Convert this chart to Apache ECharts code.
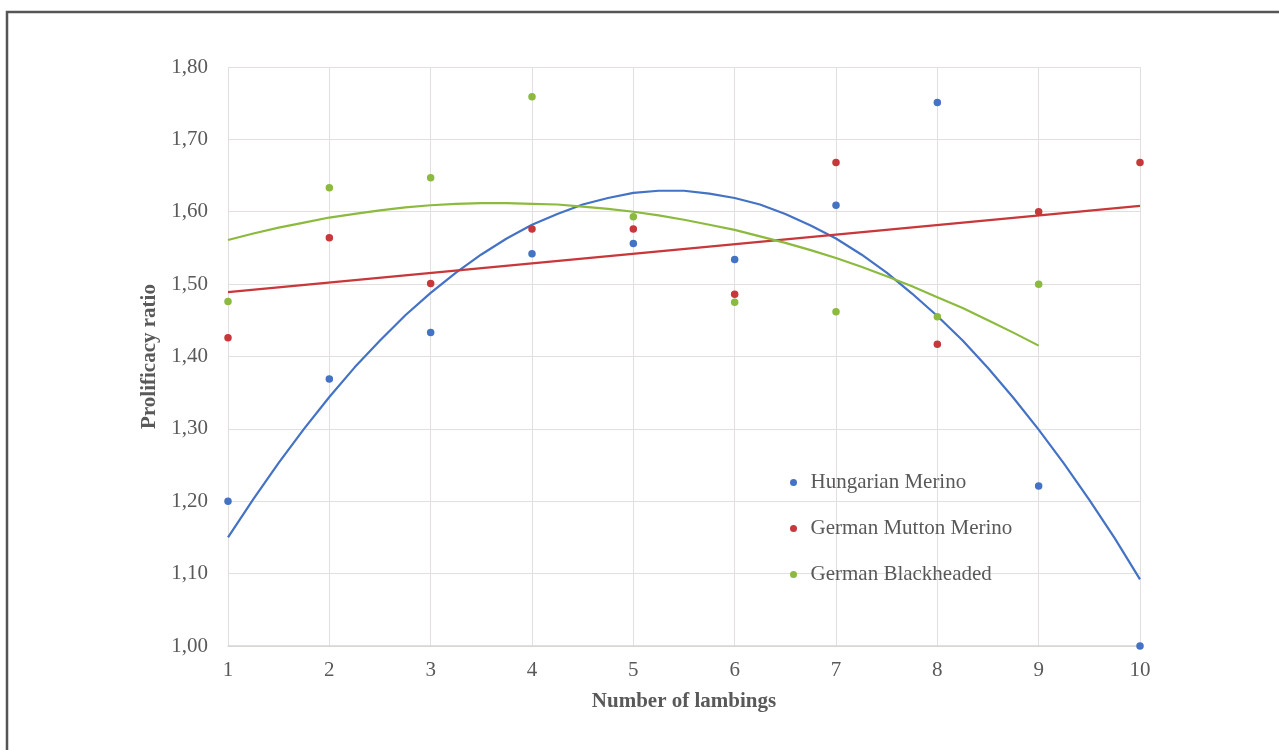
<!DOCTYPE html>
<html>
<head>
<meta charset="utf-8">
<script src="https://cdn.jsdelivr.net/npm/echarts@6/dist/echarts.min.js"></script>
<style>
html,body{margin:0;padding:0;background:#fff;}
#chart{width:1279px;height:750px;}
</style>
</head>
<body>
<div id="chart"></div>
<script>
// Data
const lambings = [1, 2, 3, 4, 5, 6, 7, 8, 9, 10];
const seriesNames = ['Hungarian Merino', 'German Mutton Merino', 'German Blackheaded'];
const hungarianMerino = [1.200, 1.369, 1.433, 1.542, 1.556, 1.534, 1.609, 1.751, 1.221, 1.000];
const germanMuttonMerino = [1.426, 1.564, 1.501, 1.576, 1.576, 1.486, 1.668, 1.417, 1.600, 1.668];
const germanBlackheaded = [1.476, 1.633, 1.647, 1.759, 1.593, 1.475, 1.462, 1.455, 1.500];
// Trend lines (every quarter lambing)
const trendHMx = [1, 1.25, 1.5, 1.75, 2, 2.25, 2.5, 2.75, 3, 3.25, 3.5, 3.75, 4, 4.25, 4.5, 4.75,
                  5, 5.25, 5.5, 5.75, 6, 6.25, 6.5, 6.75, 7, 7.25, 7.5, 7.75, 8, 8.25, 8.5, 8.75,
                  9, 9.25, 9.5, 9.75, 10];
const trendHM = [1.150, 1.203, 1.253, 1.300, 1.344, 1.385, 1.422, 1.457, 1.488, 1.516, 1.541, 1.563,
                 1.582, 1.597, 1.610, 1.619, 1.626, 1.629, 1.629, 1.625, 1.619, 1.610, 1.597, 1.581,
                 1.563, 1.541, 1.516, 1.487, 1.456, 1.422, 1.384, 1.343, 1.299, 1.252, 1.202, 1.149,
                 1.092];
const trendGMMx = [1, 10];
const trendGMM = [1.489, 1.608];
const trendGBx = [1, 1.25, 1.5, 1.75, 2, 2.25, 2.5, 2.75, 3, 3.25, 3.5, 3.75, 4, 4.25, 4.5, 4.75,
                  5, 5.25, 5.5, 5.75, 6, 6.25, 6.5, 6.75, 7, 7.25, 7.5, 7.75, 8, 8.25, 8.5, 8.75, 9];
const trendGB = [1.561, 1.570, 1.578, 1.585, 1.592, 1.597, 1.602, 1.606, 1.609, 1.611, 1.612, 1.612,
                 1.611, 1.610, 1.607, 1.604, 1.600, 1.595, 1.589, 1.582, 1.575, 1.566, 1.557, 1.547,
                 1.536, 1.524, 1.511, 1.497, 1.482, 1.467, 1.450, 1.433, 1.415];
const yTicks = [1.0, 1.8, 0.1];
const xAxisTitle = 'Number of lambings';
const yAxisTitle = 'Prolificacy ratio';

const colors = ['#4472c4', '#c8373a', '#8cba3e'];
const FONT = 'Liberation Serif';
const TXT = '#595959';

function pairs(xs, ys) { return ys.map((v, i) => [xs[i], v]); }

const chart = echarts.init(document.getElementById('chart'));
const scatterData = [hungarianMerino, germanMuttonMerino, germanBlackheaded];
const trends = [[trendHMx, trendHM], [trendGMMx, trendGMM], [trendGBx, trendGB]];

const series = [];
trends.forEach((t, i) => {
  series.push({
    name: seriesNames[i] + ' trend',
    type: 'line',
    smooth: false,
    showSymbol: false,
    symbol: 'none',
    data: pairs(t[0], t[1]),
    lineStyle: { color: colors[i], width: 2.2, join: 'round' },
    z: 2,
    silent: true
  });
});
scatterData.forEach((d, i) => {
  series.push({
    name: seriesNames[i],
    type: 'scatter',
    symbol: 'circle',
    symbolSize: 7.5,
    clip: false,
    data: pairs(lambings, d),
    itemStyle: { color: colors[i], opacity: 1 },
    z: 5
  });
});

chart.setOption({
  animation: false,
  backgroundColor: '#ffffff',
  color: colors,
  textStyle: { fontFamily: FONT },
  graphic: [{
    type: 'rect',
    shape: { x: 7, y: 12, width: 1320, height: 800 },
    style: { fill: 'none', stroke: '#555555', lineWidth: 2.5 },
    silent: true
  }],
  grid: { left: 228, right: 139, top: 67, bottom: 104 },
  legend: {
    data: seriesNames,
    orient: 'vertical',
    left: 785,
    top: 467,
    icon: 'circle',
    itemWidth: 24,
    itemHeight: 7,
    itemGap: 25,
    textStyle: { fontFamily: FONT, fontSize: 21, color: TXT }
  },
  xAxis: {
    type: 'value',
    min: lambings[0],
    max: lambings[lambings.length - 1],
    interval: 1,
    name: xAxisTitle,
    nameLocation: 'middle',
    nameGap: 45,
    nameTextStyle: { fontFamily: FONT, fontSize: 21, fontWeight: 'bold', color: TXT },
    axisLine: { show: true, lineStyle: { color: '#d9d4d4', width: 1.5 } },
    axisTick: { show: false },
    axisLabel: { fontFamily: FONT, fontSize: 21, color: TXT, margin: 14 },
    splitLine: { show: true, lineStyle: { color: '#e3dfdf', width: 1 } }
  },
  yAxis: {
    type: 'value',
    min: yTicks[0],
    max: yTicks[1],
    interval: yTicks[2],
    name: yAxisTitle,
    nameLocation: 'middle',
    nameGap: 64,
    nameRotate: 90,
    nameTextStyle: { fontFamily: FONT, fontSize: 21, fontWeight: 'bold', color: TXT },
    axisLine: { show: false },
    axisTick: { show: false },
    axisLabel: {
      fontFamily: FONT, fontSize: 21, color: TXT, margin: 20,
      formatter: v => v.toFixed(2).replace('.', ',')
    },
    splitLine: { show: true, lineStyle: { color: '#e3dfdf', width: 1 } }
  },
  series: series
});
</script>
</body>
</html>
